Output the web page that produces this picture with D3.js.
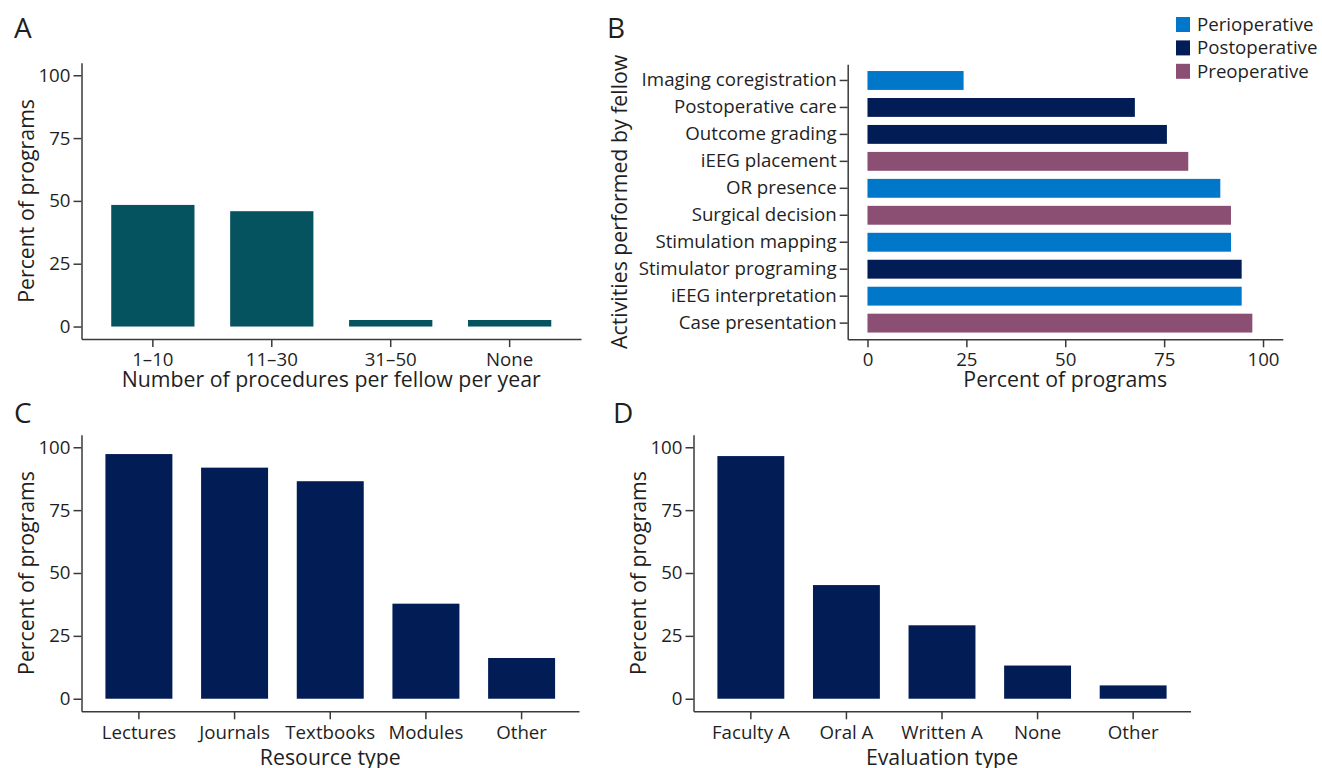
<!DOCTYPE html>
<html><head><meta charset="utf-8">
<script src="https://cdn.jsdelivr.net/npm/d3@7"></script>
<style>
body{margin:0;background:#fff}
text{font-family:"Open Sans",sans-serif;fill:#1f1f1f}
</style>
</head><body>
<svg id="chart" width="1322" height="768"></svg>
<script>
// ---- data ----
const procCategories = ["1–10", "11–30", "31–50", "None"];
const procValues = [48.4, 45.9, 2.6, 2.6];

const activityCategories = ["Imaging coregistration", "Postoperative care", "Outcome grading", "iEEG placement", "OR presence", "Surgical decision", "Stimulation mapping", "Stimulator programing", "iEEG interpretation", "Case presentation"];
const activityValues = [24.3, 67.6, 75.7, 81.1, 89.2, 91.9, 91.9, 94.6, 94.6, 97.3];
const activityPhases = ["Perioperative", "Postoperative", "Postoperative", "Preoperative", "Perioperative", "Preoperative", "Perioperative", "Postoperative", "Perioperative", "Preoperative"];
const phaseNames = ["Perioperative", "Postoperative", "Preoperative"];

const resourceCategories = ["Lectures", "Journals", "Textbooks", "Modules", "Other"];
const resourceValues = [97.3, 91.9, 86.5, 37.8, 16.2];

const evalCategories = ["Faculty A", "Oral A", "Written A", "None", "Other"];
const evalValues = [96.5, 45.2, 29.2, 13.2, 5.3];

const percentTicks = [0, 25, 50, 75, 100];

// ---- styles ----
const tealColor = "#04535f";
const navyColor = "#021c55";
const phaseColors = ["#0077c8", "#021c55", "#8b4f74"];
const axisColor = "#3a3a3a";
const tickFont = 18.7, titleFont = 21.3, letterFont = 28;

const svg = d3.select("#chart");

function styleAxis(g) {
  g.selectAll("path.domain").attr("stroke", axisColor).attr("stroke-width", 1.5);
  g.selectAll(".tick line").attr("stroke", axisColor).attr("stroke-width", 1.5);
  g.selectAll(".tick text").style("font-family", "'Open Sans', sans-serif")
    .style("font-size", tickFont + "px").attr("fill", "#222");
}

function panelLetter(txt, x, y) {
  svg.append("text").attr("x", x).attr("y", y).style("font-size", letterFont + "px").text(txt);
}

function yTitle(txt, x, cy) {
  svg.append("text").attr("transform", `translate(${x},${cy}) rotate(-90)`)
    .attr("text-anchor", "middle").style("font-size", titleFont + "px").text(txt);
}
function xTitle(txt, cx, y) {
  svg.append("text").attr("x", cx).attr("y", y)
    .attr("text-anchor", "middle").style("font-size", titleFont + "px").text(txt);
}

function verticalPanel(cats, vals, color, xr, yTop, yBottom, xLab, yLab, titleGap) {
  const x = d3.scaleBand().domain(cats).range(xr).paddingInner(0.3).paddingOuter(0.25);
  const y = d3.scaleLinear().domain([-5, 105]).range([yBottom, yTop]);
  const g = svg.append("g");
  g.selectAll("rect").data(cats).enter().append("rect")
    .attr("x", d => x(d)).attr("width", x.bandwidth())
    .attr("y", (d, i) => y(vals[i])).attr("height", (d, i) => y(0) - y(vals[i]))
    .attr("fill", color);
  const ax = svg.append("g").attr("transform", `translate(0,${yBottom})`)
    .call(d3.axisBottom(x).tickSize(8).tickSizeOuter(0).tickPadding(6));
  styleAxis(ax);
  const ay = svg.append("g").attr("transform", `translate(${xr[0]},0)`)
    .call(d3.axisLeft(y).tickValues(percentTicks).tickSize(8).tickSizeOuter(0).tickPadding(3));
  styleAxis(ay);
  xTitle(xLab, (xr[0] + xr[1]) / 2, yBottom + titleGap);
  yTitle(yLab, xr[0] - 48, (yTop + yBottom) / 2);
}

// Panel A
panelLetter("A", 14, 38);
verticalPanel(procCategories, procValues, tealColor, [81.5, 581], 62.7, 339.1,
  "Number of procedures per fellow per year", "Percent of programs", 48);

// Panel C
panelLetter("C", 14, 423);
verticalPanel(resourceCategories, resourceValues, navyColor, [81.5, 579], 434.7, 711.3,
  "Resource type", "Percent of programs", 54);

// Panel D
panelLetter("D", 613, 423);
verticalPanel(evalCategories, evalValues, navyColor, [693.5, 1190.5], 434.7, 711.3,
  "Evaluation type", "Percent of programs", 54);

// Panel B (horizontal bars)
panelLetter("B", 607, 38);
(function () {
  const xr = [847.7, 1282.8], yTop = 64.3, yBottom = 339.3;
  const x = d3.scaleLinear().domain([-5, 105]).range(xr);
  const y = d3.scaleBand().domain(activityCategories).range([yTop, yBottom]).paddingInner(0.3).paddingOuter(0.25);
  const color = d3.scaleOrdinal().domain(phaseNames).range(phaseColors);
  svg.append("g").selectAll("rect").data(activityCategories).enter().append("rect")
    .attr("y", d => y(d)).attr("height", y.bandwidth())
    .attr("x", x(0)).attr("width", (d, i) => x(activityValues[i]) - x(0))
    .attr("fill", (d, i) => color(activityPhases[i]));
  const ax = svg.append("g").attr("transform", `translate(0,${yBottom})`)
    .call(d3.axisBottom(x).tickValues(percentTicks).tickSize(8).tickSizeOuter(0).tickPadding(5));
  styleAxis(ax);
  const ay = svg.append("g").attr("transform", `translate(${xr[0]},0)`)
    .call(d3.axisLeft(y).tickSize(8).tickSizeOuter(0).tickPadding(3));
  styleAxis(ay);
  xTitle("Percent of programs", (xr[0] + xr[1]) / 2, yBottom + 48);
  yTitle("Activities performed by fellow", 627, (yTop + yBottom) / 2);

  // legend
  const lg = svg.append("g");
  phaseNames.forEach((p, i) => {
    lg.append("rect").attr("x", 1176).attr("y", 17 + i * 23.4).attr("width", 14).attr("height", 15)
      .attr("fill", color(p));
    lg.append("text").attr("x", 1197).attr("y", 31 + i * 23.4)
      .style("font-size", tickFont + "px").text(p);
  });
})();
</script>
</body></html>
